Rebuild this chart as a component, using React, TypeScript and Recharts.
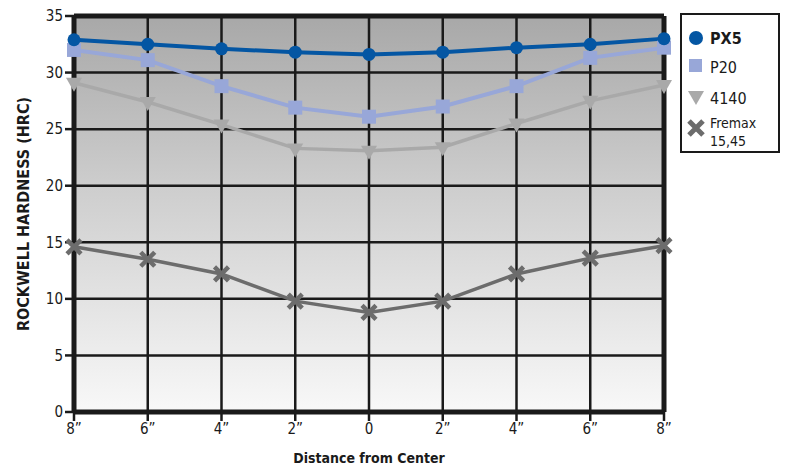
import React from 'react';
import { LineChart, Line, XAxis, YAxis, CartesianGrid, Legend, ReferenceLine } from 'recharts';

const positions = [-8, -6, -4, -2, 0, 2, 4, 6, 8];
const tickLabels = ['8”', '6”', '4”', '2”', '0', '2”', '4”', '6”', '8”'];

const px5 = [32.9, 32.5, 32.1, 31.8, 31.6, 31.8, 32.2, 32.5, 33.0];
const p20 = [32.0, 31.1, 28.8, 26.9, 26.1, 27.0, 28.8, 31.3, 32.2];
const aisi4140 = [29.1, 27.4, 25.4, 23.3, 23.1, 23.4, 25.5, 27.5, 28.9];
const fremax = [14.6, 13.5, 12.2, 9.8, 8.8, 9.8, 12.2, 13.6, 14.7];

const yTicks = [0, 5, 10, 15, 20, 25, 30, 35];

const data = positions.map((x, i) => ({
  x,
  px5: px5[i],
  p20: p20[i],
  aisi4140: aisi4140[i],
  fremax: fremax[i],
}));

const FONT = "'Liberation Sans Narrow', 'DejaVu Sans Condensed', 'Roboto Condensed', Arial, sans-serif";

const BLUE = '#0456a3';
const LILAC = '#98a7d8';
const LIGHT = '#a9a9a9';
const DARK = '#6c6c6c';

const circleDot = (p: any) => <circle key={p.key ?? p.index} cx={p.cx} cy={p.cy} r={6.5} fill={BLUE} />;
const squareDot = (p: any) => <rect key={p.key ?? p.index} x={p.cx - 7} y={p.cy - 7} width={14} height={14} fill={LILAC} />;
const triDot = (p: any) => (
  <path key={p.key ?? p.index} d={`M${p.cx - 8},${p.cy - 5} L${p.cx + 8},${p.cy - 5} L${p.cx},${p.cy + 9} Z`} fill={LIGHT} />
);
const crossDot = (p: any) => (
  <path
    key={p.key ?? p.index}
    d={`M${p.cx - 7},${p.cy - 7} L${p.cx + 7},${p.cy + 7} M${p.cx + 7},${p.cy - 7} L${p.cx - 7},${p.cy + 7}`}
    stroke={DARK}
    strokeWidth={4.5}
  />
);

const renderLegend = () => (
  <div
    style={{
      width: 96,
      height: 136,
      border: '2px solid #1a1a1a',
      background: '#fff',
      fontFamily: FONT,
      color: '#1a1a1a',
      position: 'relative',
    }}
  >
    <svg width={96} height={136} style={{ position: 'absolute', left: 0, top: 0 }}>
      <circle cx={14} cy={23} r={7} fill={BLUE} />
      <text x={28} y={29} fontSize={16} fontWeight="bold" fill="#1a1a1a">PX5</text>
      <rect x={7} y={44} width={13} height={13} fill={LILAC} />
      <text x={28} y={58} fontSize={16} fill="#1a1a1a">P20</text>
      <path d="M6,76 L22,76 L14,90 Z" fill={LIGHT} />
      <text x={28} y={89} fontSize={16} fill="#1a1a1a">4140</text>
      <path d="M7,106 L21,120 M21,106 L7,120" stroke={DARK} strokeWidth={5} />
      <text x={28} y={113} fontSize={14} fill="#1a1a1a">Fremax</text>
      <text x={28} y={131} fontSize={14} fill="#1a1a1a">15,45</text>
    </svg>
  </div>
);

const yLabel = (props: any) => {
  const vb = props.viewBox;
  const cy = vb.y + vb.height / 2;
  return (
    <text
      x={29}
      y={cy}
      transform={`rotate(-90, 29, ${cy})`}
      textAnchor="middle"
      fontFamily={FONT}
      fontWeight="bold"
      fontSize={16}
      fill="#1a1a1a"
    >
      ROCKWELL HARDNESS (HRC)
    </text>
  );
};

export default function App() {
  return (
    <div style={{ position: 'absolute', left: 0, top: 0, background: '#fff' }}>
      <svg width={0} height={0} style={{ position: 'absolute' }}>
        <defs>
          <linearGradient id="bg" x1="0" y1="0" x2="0" y2="1">
            <stop offset="0%" stopColor="#a8a8a8" />
            <stop offset="45%" stopColor="#cfcfcf" />
            <stop offset="100%" stopColor="#f8f8f8" />
          </linearGradient>
        </defs>
      </svg>
      <LineChart width={788} height={467} data={data} margin={{ top: 16, right: 124, bottom: 0, left: 0 }}>
        <CartesianGrid fill="url(#bg)" fillOpacity={1} stroke="#1a1a1a" strokeWidth={2.5} />
        <XAxis
          dataKey="x"
          type="number"
          domain={[-8, 8]}
          ticks={positions}
          tickFormatter={(v: number) => tickLabels[positions.indexOf(v)]}
          axisLine={{ stroke: '#1a1a1a', strokeWidth: 5 }}
          tickLine={{ stroke: '#1a1a1a', strokeWidth: 2.5 }}
          tickSize={9}
          tick={{ fill: '#1a1a1a', fontSize: 15, fontFamily: FONT }}
          height={55}
          label={{
            value: 'Distance from Center',
            position: 'insideBottom',
            offset: 4,
            style: { fontFamily: FONT, fontWeight: 'bold', fontSize: 14, fill: '#1a1a1a' },
          }}
        />
        <YAxis
          domain={[0, 35]}
          ticks={yTicks}
          interval={0}
          axisLine={{ stroke: '#1a1a1a', strokeWidth: 5 }}
          tickLine={{ stroke: '#1a1a1a', strokeWidth: 2.5 }}
          tickSize={9}
          tick={{ fill: '#1a1a1a', fontSize: 15, fontFamily: FONT }}
          width={74}
          label={yLabel}
        />
        <ReferenceLine y={35} stroke="#1a1a1a" strokeWidth={5} />
        <ReferenceLine x={8} stroke="#1a1a1a" strokeWidth={5} />
        <Legend
          layout="horizontal"
          verticalAlign="middle"
          content={renderLegend}
          wrapperStyle={{ position: 'absolute', left: 680, top: 13, width: 100 }}
        />
        <Line dataKey="fremax" stroke={DARK} strokeWidth={3.5} dot={crossDot} isAnimationActive={false} />
        <Line dataKey="aisi4140" stroke={LIGHT} strokeWidth={3.5} dot={triDot} isAnimationActive={false} />
        <Line dataKey="p20" stroke={LILAC} strokeWidth={4} dot={squareDot} isAnimationActive={false} />
        <Line dataKey="px5" stroke={BLUE} strokeWidth={4} dot={circleDot} isAnimationActive={false} />
      </LineChart>
    </div>
  );
}
